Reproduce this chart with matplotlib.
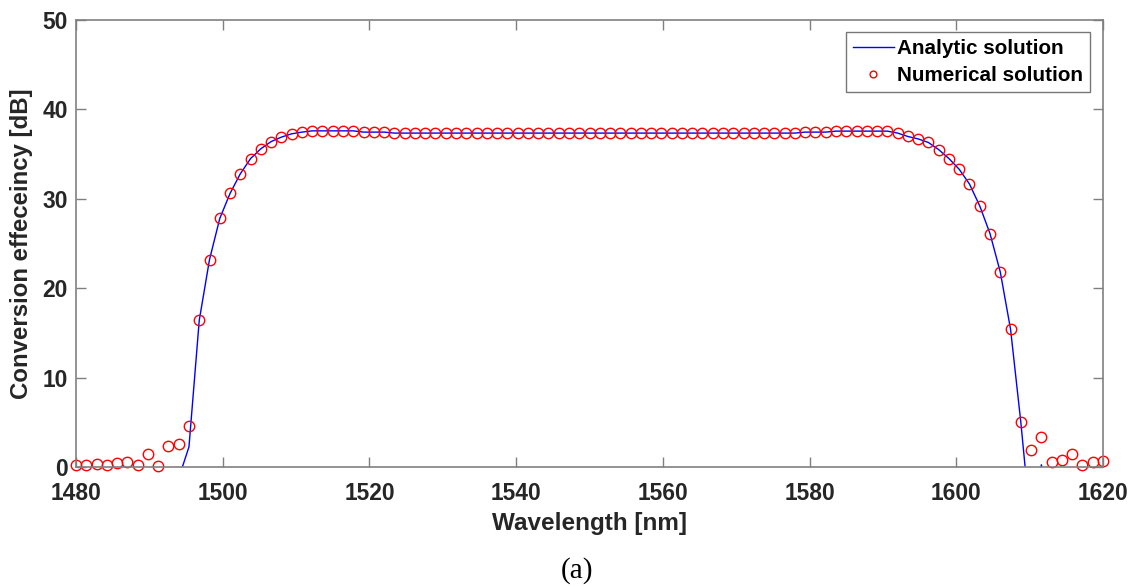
import numpy as np
import matplotlib
matplotlib.use("Agg")
import matplotlib.pyplot as plt

# wavelength grid of the numerical solution (101 points, 1.4 nm step)
wavelength = np.linspace(1480, 1620, 101)

numerical = (
    [0.27, 0.27, 0.37, 0.27, 0.45, 0.52, 0.27, 1.5, 0.15, 2.4, 2.6, 4.57, 16.4,
     23.2, 27.8, 30.6, 32.8, 34.5, 35.6, 36.4, 36.9, 37.27, 37.46]
    + [37.6] * 5
    + [37.46] * 3
    + [37.35] * 40
    + [37.46] * 3
    + [37.57] * 6
    + [37.35, 36.97, 36.7, 36.3, 35.5, 34.5, 33.3, 31.65, 29.2, 26.1, 21.8, 15.4, 5.0]
    + [1.9, 3.3, 0.56, 0.78, 1.45, 0.22, 0.56, 0.67]
)

# analytic solution: same as the numerical one on the band, drops below 0 at the edges
analytic = list(numerical)
analytic[:10] = [np.nan] * 10
analytic[10] = -1.25
analytic[11] = 2.25
analytic[93:] = [-7.0, 0.25, -7.0] + [np.nan] * 5

xticks = [1480, 1500, 1520, 1540, 1560, 1580, 1600, 1620]
yticks = [0, 10, 20, 30, 40, 50]

plt.rcParams["font.family"] = ["Liberation Sans", "DejaVu Sans"]
plt.rcParams["font.weight"] = "bold"

fig = plt.figure(figsize=(11.38, 5.87), dpi=100)
ax = fig.add_axes([76 / 1138, 1 - 467 / 587, (1103 - 76) / 1138, (467 - 20) / 587])

ax.plot(wavelength, analytic, color="#0000ff", lw=1.0, label="Analytic solution")
ax.plot(wavelength, numerical, "o", ms=7.5, mfc="none", mec="#ff0000", mew=1.0,
        label="Numerical solution", clip_on=False)

ax.set_xlim(1480, 1620)
ax.set_ylim(0, 50)
ax.set_xticks(xticks)
ax.set_yticks(yticks)
ax.tick_params(direction="in", length=7, width=1, top=True, right=True,
               labelsize=16.4, colors="#7f7f7f", labelcolor="#262626")
ax.tick_params(axis="x", pad=10.5)
ax.tick_params(axis="y", pad=6)
for lab in ax.get_xticklabels() + ax.get_yticklabels():
    lab.set_fontweight("bold")
for s in ax.spines.values():
    s.set_color("#808080")
    s.set_linewidth(1.2)

ax.set_xlabel("Wavelength [nm]", fontsize=17.5, fontweight="bold", color="#262626", labelpad=5)
ax.set_ylabel("Conversion effeceincy [dB]", fontsize=17.3, fontweight="bold", color="#262626", labelpad=7)

leg = ax.legend(loc="upper right", bbox_to_anchor=(0.9873, 0.9732), fontsize=14.9,
                frameon=True, fancybox=False, handlelength=2.0, handletextpad=0.15,
                borderpad=0.33, labelspacing=0.4, borderaxespad=0, markerscale=0.65)
leg.get_frame().set_edgecolor("#555555")
leg.get_frame().set_linewidth(1.0)
for t in leg.get_texts():
    t.set_fontweight("bold")

fig.text(577 / 1138, 1 - 571 / 587, "(a)", ha="center", va="center",
         fontsize=21, family="Liberation Serif", fontweight="normal")

fig.savefig("out.png", dpi=100)
